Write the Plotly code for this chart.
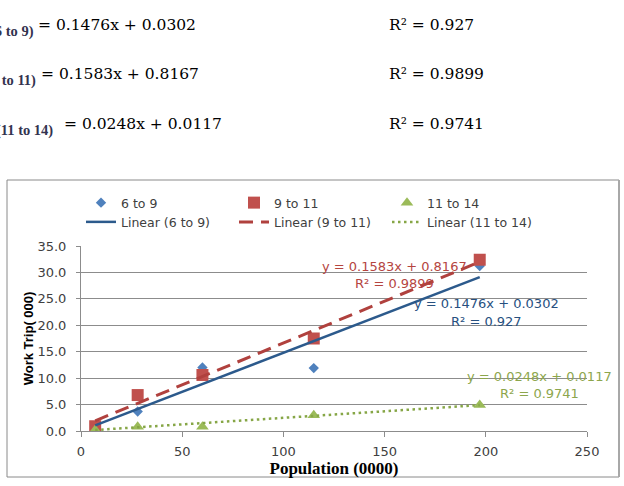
import plotly.graph_objects as go

# ---------------- data ----------------
population = [7, 28, 60, 115, 197]
series_names = ["6 to 9", "9 to 11", "11 to 14"]
trips_6_9 = [1.0, 3.7, 12.0, 11.9, 31.2]
trips_9_11 = [0.9, 6.8, 10.6, 17.5, 32.4]
trips_11_14 = [0.2, 0.8, 0.8, 3.0, 4.9]
slopes = [0.1476, 0.1583, 0.0248]
intercepts = [0.0302, 0.8167, 0.0117]
r_squared = ["0.927", "0.9899", "0.9741"]
x_ticks = [0, 50, 100, 150, 200, 250]
y_ticks = [0, 5, 10, 15, 20, 25, 30, 35]

# ---------------- layout helpers ----------------
W, H = 624, 486
ML, MR, MT, MB = 81, 37, 246, 55
PW, PH = W - ML - MR, H - MT - MB


def px(x):
    return (x - ML) / PW


def py(y):
    return (H - MB - y) / PH


marker_colors = ["#4F81BD", "#C0504D", "#9BBB59"]
trend_colors = ["#2C5A8C", "#B0413E", "#86A646"]
label_colors = ["#27507F", "#B5453F", "#8DA64C"]
symbols = ["diamond", "square", "triangle-up"]
msizes = [8, 12, 11]
dashes = ["solid", "14px,8px", "2.5px,3.5px"]
widths = [2.5, 3, 2.5]

fig = go.Figure()
series = [trips_6_9, trips_9_11, trips_11_14]
for i, ys in enumerate(series):
    fig.add_trace(go.Scatter(
        x=population, y=ys, mode="markers", name=series_names[i],
        marker=dict(symbol=symbols[i], size=msizes[i], color=marker_colors[i], line=dict(width=0)),
    ))
for i, ys in enumerate(series):
    xs = [min(population), max(population)]
    fig.add_trace(go.Scatter(
        x=xs, y=[slopes[i] * v + intercepts[i] for v in xs], mode="lines",
        name=f"Linear ({series_names[i]})",
        line=dict(color=trend_colors[i], width=widths[i], dash=dashes[i]),
    ))

tick_font = dict(family="DejaVu Sans", size=13, color="#404040")
fig.update_xaxes(
    range=[0, 250], tickvals=x_ticks, showgrid=False, zeroline=False,
    showline=True, linecolor="#8C8C8C", linewidth=1,
    ticks="outside", ticklen=5, tickcolor="#8C8C8C", tickfont=tick_font,
    ticklabelstandoff=3,
    title=dict(text="<b>Population (0000)</b>", standoff=0,
               font=dict(family="Liberation Serif", size=17, color="black")),
)
fig.update_yaxes(
    range=[0, 35], tickvals=y_ticks, tickformat=".1f", showgrid=True, gridcolor="#8C8C8C",
    gridwidth=1, zeroline=False, showline=True, linecolor="#8C8C8C", linewidth=1,
    ticks="outside", ticklen=4, tickcolor="#8C8C8C", tickfont=tick_font,
    ticklabelstandoff=7,
    title=dict(text="<b>Work Trip( 000)</b>", standoff=0,
               font=dict(family="Liberation Sans", size=13, color="black")),
)

annotations = []
# trendline equation labels inside the chart
eq_pos = [(486, 303, 321), (394, 266, 283), (539, 376, 393)]
for i in range(3):
    cx, y1, y2 = eq_pos[i]
    eq = f"y = {slopes[i]}x + {intercepts[i]}"
    annotations.append(dict(x=px(cx), y=py(y1), xref="paper", yref="paper", text=eq,
                            showarrow=False, xanchor="center", yanchor="middle",
                            font=dict(family="DejaVu Sans", size=13, color=label_colors[i])))
    annotations.append(dict(x=px(cx), y=py(y2), xref="paper", yref="paper",
                            text=f"R² = {r_squared[i]}",
                            showarrow=False, xanchor="center", yanchor="middle",
                            font=dict(family="DejaVu Sans", size=13, color=label_colors[i])))

# text block above the chart
eq_left = [36, 39, 62]
eq_y = [25, 74, 124]
pre_right = [36, 38, 55]
pre_y = [32, 80, 130]
for i in range(3):
    annotations.append(dict(x=px(pre_right[i]), y=py(pre_y[i]), xref="paper", yref="paper",
                            text=f"<b>({series_names[i]})</b>", showarrow=False,
                            xanchor="right", yanchor="middle",
                            font=dict(family="Liberation Serif", size=14.5, color="#33334F")))
    annotations.append(dict(x=px(eq_left[i]), y=py(eq_y[i]), xref="paper", yref="paper",
                            text=f"= {slopes[i]}x + {intercepts[i]}", showarrow=False,
                            xanchor="left", yanchor="middle",
                            font=dict(family="DejaVu Serif", size=15.5, color="black")))
    annotations.append(dict(x=px(387), y=py(eq_y[i]), xref="paper", yref="paper",
                            text=f"R² = {r_squared[i]}", showarrow=False,
                            xanchor="left", yanchor="middle",
                            font=dict(family="DejaVu Serif", size=15.5, color="black")))

shapes = [
    dict(type="rect", xref="paper", yref="paper", x0=px(7), x1=px(619), y0=py(477), y1=py(180),
         line=dict(color="#8A8A8A", width=1), layer="below"),
    dict(type="line", xref="paper", yref="paper", x0=px(619), x1=px(619), y0=py(477), y1=py(180),
         line=dict(color="#A8A8A8", width=2)),
]

fig.update_layout(
    width=W, height=H, margin=dict(l=ML, r=MR, t=MT, b=MB, autoexpand=False),
    paper_bgcolor="white", plot_bgcolor="white",
    showlegend=True,
    legend=dict(orientation="h", x=0, xanchor="left", y=py(188), yanchor="top",
                entrywidth=108, entrywidthmode="pixels", traceorder="normal",
                font=dict(family="DejaVu Sans", size=12.5, color="#404040"),
                bgcolor="rgba(0,0,0,0)"),
    annotations=annotations, shapes=shapes,
)

fig.write_html("out.html")
